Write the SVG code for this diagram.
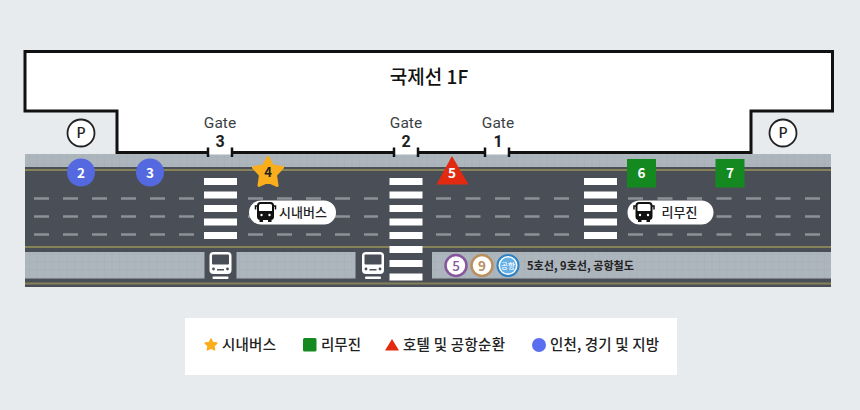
<svg xmlns="http://www.w3.org/2000/svg" width="860" height="410" viewBox="0 0 860 410">
<style>
text{font-family:"Noto Sans CJK KR","Noto Sans",sans-serif;}
.yl{stroke:#85825a;stroke-width:2;fill:none}
.dash{stroke:#8d9197;stroke-width:2.5;stroke-dasharray:15 14;fill:none}
.dash2{stroke:#8d9197;stroke-width:2.5;stroke-dasharray:15 14.500;fill:none}
.st{fill:#fff}
.mk{fill:#fff;font-size:13.500px;font-weight:700;text-anchor:middle}
.gate{fill:#3c3f44;font-size:15.500px;text-anchor:middle;font-family:Roboto,"Noto Sans",sans-serif}
.num{fill:#1c1e21;font-size:16px;font-weight:700;text-anchor:middle;font-family:Roboto,"Noto Sans",sans-serif}
.tick{stroke:#111;stroke-width:2.5;fill:none}
.leg{fill:#222;font-size:14.500px;font-weight:500}
.pt{fill:#222;font-size:11.500px;font-weight:700}
.pill{fill:#fff}
.ring{fill:#fff;stroke-width:2.500}
.plab{fill:#222;font-size:13px;font-weight:500}
</style>
<defs>
<pattern id="paving" width="7.500" height="7.500" patternUnits="userSpaceOnUse"><rect width="7.500" height="7.500" fill="#adb5bd"/><path d="M7.500 0V7.500M0 7.500H7.500" stroke="#a0a8b0" stroke-width="0.600" fill="none"/></pattern>
<g id="bus"><rect x="-7.500" y="-9" width="15" height="16" rx="2.500" fill="none" stroke="#111" stroke-width="2"/><path d="M-7.500 -1H7.500V5a2 2 0 0 1-2 2H-5.500a2 2 0 0 1-2-2Z" fill="#111"/><path d="M-8 -6H-10V-2.500M8 -6H10V-2.500" fill="none" stroke="#111" stroke-width="1.500"/><rect x="-6" y="7" width="3.500" height="3" fill="#111"/><rect x="2.500" y="7" width="3.500" height="3" fill="#111"/><circle cx="-4" cy="3" r="1.200" fill="#fff"/><circle cx="4" cy="3" r="1.200" fill="#fff"/></g>
<g id="train"><rect x="-11" y="-13" width="22" height="22" rx="4" fill="#fff"/><rect x="-8.500" y="-10.500" width="17" height="10" rx="1" fill="#4a4f57"/><circle cx="-7" cy="4" r="1.400" fill="#4a4f57"/><circle cx="7" cy="4" r="1.400" fill="#4a4f57"/><rect x="-3.500" y="4" width="7" height="1.500" fill="#4a4f57"/><rect x="-8" y="11.500" width="16" height="2.500" rx="1" fill="#fff"/></g>
</defs>
<rect width="860" height="410" fill="#e8ebee"/>

<g id="road">
<rect x="25" y="154" width="806" height="133" fill="#4a4f57"/>
<rect fill="url(#paving)" x="25" y="154" width="806" height="13"/>
<path class="yl" d="M25 170H831M25 247H831M25 283.500H831"/>
<rect fill="url(#paving)" x="25" y="252" width="179.500" height="26.500"/>
<rect fill="url(#paving)" x="236.500" y="252" width="119" height="26.500"/>
<rect fill="url(#paving)" x="432" y="252" width="399" height="26.500"/>
<path class="dash" d="M34 198.500H194M248 198.500H378M34 216.500H194M248 216.500H378M34 234.500H194M248 234.500H378"/>
<path class="dash2" d="M436 198.500H570M628 198.500H821M436 216.500H570M628 216.500H821M436 234.500H570M628 234.500H821"/>
</g>

<g id="crosswalks">
<rect class="st" x="204" y="178" width="33" height="7"/><rect class="st" x="204" y="191.500" width="33" height="7"/><rect class="st" x="204" y="205" width="33" height="7"/><rect class="st" x="204" y="218.500" width="33" height="7"/><rect class="st" x="204" y="232" width="33" height="7"/>
<rect class="st" x="389.500" y="178" width="33" height="7"/><rect class="st" x="389.500" y="191.500" width="33" height="7"/><rect class="st" x="389.500" y="205" width="33" height="7"/><rect class="st" x="389.500" y="218.500" width="33" height="7"/><rect class="st" x="389.500" y="232" width="33" height="7"/><rect class="st" x="389.500" y="246" width="33" height="7"/><rect class="st" x="389.500" y="260" width="33" height="7"/><rect class="st" x="389.500" y="273.500" width="33" height="7"/>
<rect class="st" x="584" y="178" width="33" height="7"/><rect class="st" x="584" y="191.500" width="33" height="7"/><rect class="st" x="584" y="205" width="33" height="7"/><rect class="st" x="584" y="218.500" width="33" height="7"/><rect class="st" x="584" y="232" width="33" height="7"/>
</g>

<g id="terminal">
<path d="M25 51.500H832.500V111H751V152.500H117V111H25Z" fill="#fff"/>
<path d="M208 152.500H117V111H25V51.500H832.500V111H751V152.500H509M485 152.500H418M394 152.500H232" fill="none" stroke="#111" stroke-width="3"/>
<rect x="209" y="151" width="22" height="3.500" fill="#fff"/><rect x="395" y="151" width="22" height="3.500" fill="#fff"/><rect x="486" y="151" width="22" height="3.500" fill="#fff"/>
<path class="tick" d="M208 147.500V157M232 147.500V157M394 147.500V157M418 147.500V157M485 147.500V157M509 147.500V157"/>
<text x="429" y="84" font-size="19" font-weight="500" fill="#111" text-anchor="middle">국제선 1F</text>
</g>

<g id="gate-3"><text class="gate" x="220" y="128">Gate</text><text class="num" x="220" y="146.700">3</text></g>
<g id="gate-2"><text class="gate" x="406" y="128">Gate</text><text class="num" x="406" y="146.700">2</text></g>
<g id="gate-1"><text class="gate" x="498" y="128">Gate</text><text class="num" x="498" y="146.700">1</text></g>

<g id="parking-left"><circle cx="81" cy="133" r="13.500" fill="#fff" stroke="#222" stroke-width="1.800"/><text x="81" y="138" font-size="14" font-weight="500" fill="#222" text-anchor="middle">P</text></g>
<g id="parking-right"><circle cx="783" cy="133" r="13.500" fill="#fff" stroke="#222" stroke-width="1.800"/><text x="783" y="138" font-size="14" font-weight="500" fill="#222" text-anchor="middle">P</text></g>

<g id="stop-2"><circle cx="81" cy="172.500" r="14" fill="#5468e0"/><text class="mk" x="81" y="177.500">2</text></g>
<g id="stop-3"><circle cx="150" cy="172.500" r="14" fill="#5468e0"/><text class="mk" x="150" y="177.500">3</text></g>
<g id="stop-4"><path d="M268 157.500L272.500 166L282.500 167.500L275.500 175L277 185.500L268 181.500L259 185.500L260.500 175L253.500 167.500L263.500 166Z" fill="#fbae1c" stroke="#fbae1c" stroke-width="3" stroke-linejoin="round"/><text x="268" y="177" font-size="13" font-weight="700" fill="#222" text-anchor="middle">4</text></g>
<g id="stop-5"><path d="M452 156L468.500 184.500H436.500Z" fill="#e22a10"/><text class="mk" x="452" y="177.500">5</text></g>
<g id="stop-6"><rect x="627" y="159" width="29" height="28.500" fill="#13891f"/><text class="mk" x="641.500" y="177.500">6</text></g>
<g id="stop-7"><rect x="715.500" y="159" width="29" height="28.500" fill="#13891f"/><text class="mk" x="730" y="177.500">7</text></g>

<g id="pill-bus"><rect class="pill" x="249" y="200.500" width="87" height="24" rx="12"/><use href="#bus" x="265.500" y="212"/><text class="plab" x="279" y="217">시내버스</text></g>
<g id="pill-limo"><rect class="pill" x="627.500" y="200.500" width="86" height="24" rx="12"/><use href="#bus" x="644" y="212"/><text class="plab" x="661.500" y="217">리무진</text></g>

<g id="train-1"><use href="#train" x="220.500" y="265"/></g>
<g id="train-2"><use href="#train" x="373" y="265"/></g>

<g id="subway-lines">
<circle class="ring" cx="456" cy="265.500" r="10.500" stroke="#85569b"/><text x="456" y="270.500" font-size="13.500" font-weight="500" fill="#85569b" text-anchor="middle">5</text>
<circle class="ring" cx="482" cy="265.500" r="10.500" stroke="#b98f5e"/><text x="482" y="270.500" font-size="13.500" font-weight="700" fill="#b98f5e" text-anchor="middle">9</text>
<circle cx="508" cy="265.500" r="10.500" fill="#fff" stroke="#2b82c6" stroke-width="2"/><circle cx="508" cy="265.500" r="8" fill="#66b0e6"/><text x="508" y="268.500" font-size="7.500" font-weight="500" fill="#fff" text-anchor="middle">공항</text>
<text class="pt" x="527" y="269.500" textLength="107" lengthAdjust="spacingAndGlyphs">5호선, 9호선, 공항철도</text>
</g>

<g id="legend">
<rect x="185" y="318" width="492" height="57" fill="#fff"/>
<path d="M211 339L212.800 342.500L216.800 343.100L213.900 345.900L214.600 349.900L211 348L207.400 349.900L208.100 345.900L205.200 343.100L209.200 342.500Z" fill="#fbae1c" stroke="#fbae1c" stroke-width="1.500" stroke-linejoin="round"/>
<text class="leg" x="222" y="350" textLength="54">시내버스</text>
<rect x="303" y="338" width="13.500" height="13.500" rx="1.500" fill="#13891f"/>
<text class="leg" x="321" y="350" textLength="40">리무진</text>
<path d="M392 339L399 350.500H385Z" fill="#e22a10"/>
<text class="leg" x="403" y="350" textLength="102">호텔 및 공항순환</text>
<circle cx="539" cy="345" r="7" fill="#5b6ef0"/>
<text class="leg" x="550" y="350" textLength="109">인천, 경기 및 지방</text>
</g>
</svg>
